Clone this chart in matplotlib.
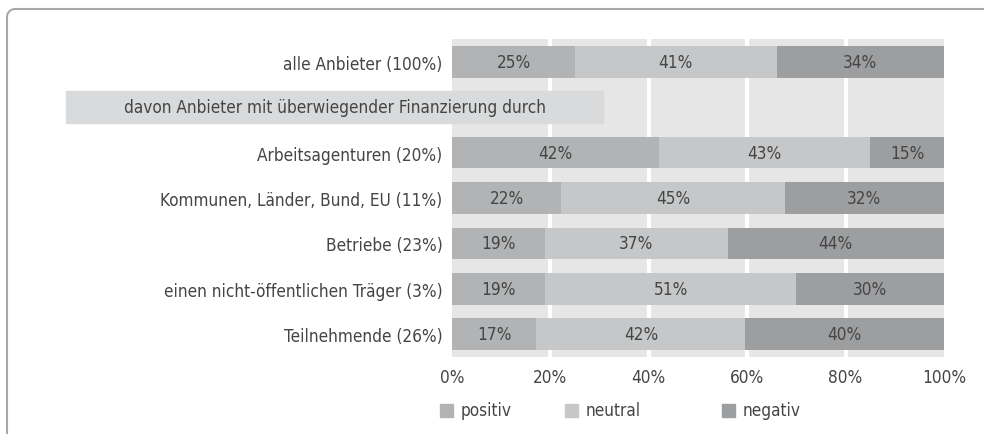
import matplotlib
matplotlib.use("Agg")
import numpy as np
import matplotlib.pyplot as plt
from matplotlib.patches import Rectangle
from matplotlib import font_manager

categories = ["alle Anbieter (100%)",
              "davon Anbieter mit überwiegender Finanzierung durch",
              "Arbeitsagenturen (20%)",
              "Kommunen, Länder, Bund, EU (11%)",
              "Betriebe (23%)",
              "einen nicht-öffentlichen Träger (3%)",
              "Teilnehmende (26%)"]
positiv = [25, None, 42, 22, 19, 19, 17]
neutral = [41, None, 43, 45, 37, 51, 42]
negativ = [34, None, 15, 32, 44, 30, 40]
series_names = ["positiv", "neutral", "negativ"]
xticks = [0, 20, 40, 60, 80, 100]
xticklabels = ["0%", "20%", "40%", "60%", "80%", "100%"]

# look for a condensed sans font
cand = None
for f in font_manager.fontManager.ttflist:
    st = f.stretch
    cond = (isinstance(st, str) and "condensed" in st) or (isinstance(st, int) and st < 500) \
        or "Narrow" in f.name or "Condensed" in f.name
    if cond and f.style == "normal" and f.weight in (400, "normal", "regular") \
            and "Mono" not in f.name and "Serif" not in f.name:
        if cand is None or "Light" in cand.fname:
            cand = f
if cand is not None:
    fp = font_manager.FontProperties(fname=cand.fname)
    FS = 12.3
else:
    fp = font_manager.FontProperties(family=["Liberation Sans", "DejaVu Sans"])
    FS = 11.5
fp.set_size(FS)

colors = ["#b1b3b4", "#c6c7c8", "#9d9ea0"]
txt = "#454545"

W, H = 985, 435
fig = plt.figure(figsize=(W / 100, H / 100), dpi=100)

# frame with rounded top-left corner (pixel coordinates, y from top)
r = 8
ang = np.linspace(np.pi, np.pi / 2, 12)
fx = np.concatenate([[7], 7 + r + r * np.cos(ang), [983]])
fy = np.concatenate([[435], 10 + r - r * np.sin(ang), [10]])
fig.add_artist(plt.Line2D(fx / W, 1 - fy / H, color="#a8a8a8", lw=1.5))

ax = fig.add_axes([452 / W, (H - 358) / H, 492 / W, 318 / H])
ax.set_facecolor("#e6e6e6")
ax.set_xlim(0, 100)
ax.set_ylim(6.5, -0.5)
for s in ax.spines.values():
    s.set_visible(False)
for x in xticks[1:-1]:
    ax.axvline(x, color="white", lw=3, zorder=1)

bh = 0.7
for i, cat in enumerate(categories):
    if positiv[i] is None:
        continue
    vals = [positiv[i], neutral[i], negativ[i]]
    tot = sum(vals)
    left = 0
    for v, c in zip(vals, colors):
        w = v / tot * 100
        ax.barh(i, w, left=left, height=bh, color=c, zorder=2)
        ax.text(left + w / 2, i, f"{v}%", ha="center", va="center",
                fontproperties=fp, color=txt, zorder=3)
        left += w

ax.set_yticks([i for i in range(len(categories)) if positiv[i] is not None])
ax.set_yticklabels([c for i, c in enumerate(categories) if positiv[i] is not None],
                   fontproperties=fp, color=txt)
ax.tick_params(axis="y", length=0, pad=7)
ax.set_xticks(xticks)
ax.set_xticklabels(xticklabels, fontproperties=fp, color=txt)
ax.tick_params(axis="x", length=0, pad=8)

# header row box
hi = 1
x0 = (66 - 452) / 492 * 100
x1 = (603 - 452) / 492 * 100
ax.add_patch(Rectangle((x0, hi - 0.36), x1 - x0, 0.72, color="#d9dadb",
                       clip_on=False, zorder=4))
ax.text((x0 + x1) / 2, hi, categories[hi], ha="center", va="center",
        fontproperties=fp, color=txt, clip_on=False, zorder=5)

# legend
leg_x = [440, 565, 722]
ly = 411
for nm, c, lx in zip(series_names, colors, leg_x):
    fig.add_artist(Rectangle((lx / W, 1 - (ly + 7) / H), 13 / W, 13 / H,
                             color=c, transform=fig.transFigure))
    fig.text((lx + 21) / W, 1 - ly / H, nm, ha="left", va="center",
             fontproperties=fp, color=txt)

fig.savefig("out.png", dpi=100)
